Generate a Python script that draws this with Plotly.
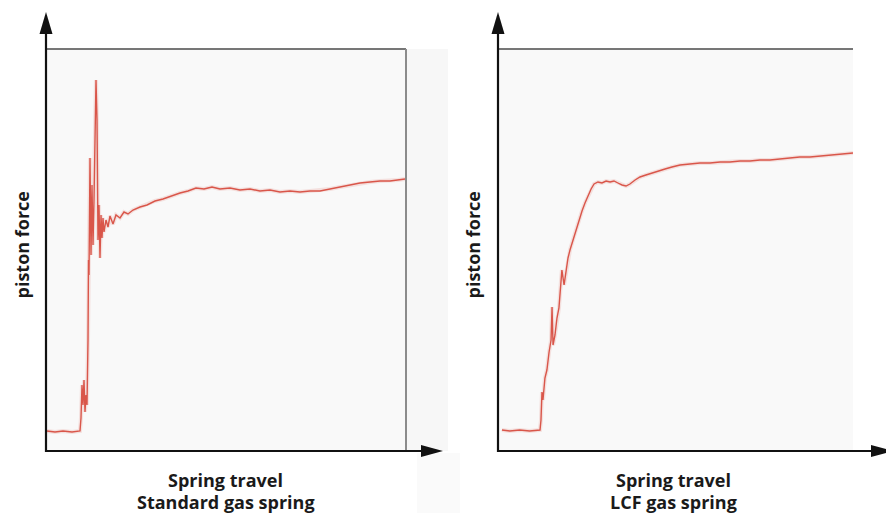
import plotly.graph_objects as go

# ---- measured curves (travel in mm, piston force in kN, arbitrary scale) ----
std_travel = [0.5, 4.5, 8.5, 13, 17, 17.5, 18, 18.5, 19, 19.5, 20, 20.5, 21, 21.25, 21.5,
              22, 22.5, 23, 23.5, 24, 24.5, 25, 25.5, 26, 26.5, 27, 27.5, 28, 28.5, 29,
              30, 31, 32, 33.5, 35, 37, 39, 41, 43.5, 47, 50.5, 54.5, 58.5, 62.5, 67, 71,
              75, 79, 83, 87, 92, 97, 102, 107, 112, 117, 122, 127, 132, 137, 142, 147,
              152, 157, 162, 167, 172, 176, 179.5]
std_force = [0.24, 0.23, 0.24, 0.23, 0.24, 0.37, 0.70, 0.50, 0.75, 0.43, 0.60, 0.50, 1.15, 1.95, 1.80,
             2.97, 2.00, 2.70, 2.10, 2.55, 3.15, 3.75, 3.35, 2.15, 2.50, 1.97, 2.40, 2.17, 2.37, 2.23,
             2.35, 2.28, 2.39, 2.31, 2.40, 2.37, 2.43, 2.41, 2.45, 2.48, 2.50, 2.54, 2.56, 2.59, 2.62, 2.64,
             2.67, 2.66, 2.68, 2.66, 2.67, 2.65, 2.66, 2.64, 2.65, 2.63, 2.64, 2.63, 2.64, 2.64, 2.66, 2.68,
             2.70, 2.72, 2.73, 2.74, 2.74, 2.75, 2.76]

lcf_travel = [2, 6, 11, 16, 21.3, 21.8, 22.3, 22.8, 23.8, 24.8, 25.9, 26.9, 27.4, 27.9, 28.9,
              29.9, 30.9, 31.9, 32.4, 33.5, 34.5, 35.5, 36.5, 38, 39.5, 41, 42.6, 44.1, 45.6,
              47.2, 48.7, 50.7, 52.7, 54.8, 56.8, 58.8, 60.8, 62.9, 64.9, 66.9, 69.5, 72, 75,
              78, 81, 84.7, 88.2, 92.3, 97.3, 102.4, 107.5, 112.6, 117.6, 122.7, 127.8, 132.8,
              137.9, 143, 148, 153, 158.2, 163.3, 168.3, 173.4, 180]
lcf_force = [0.25, 0.24, 0.25, 0.24, 0.25, 0.35, 0.63, 0.55, 0.77, 0.85, 1.03, 1.15, 1.48, 1.10, 1.20,
             1.37, 1.47, 1.73, 1.85, 1.70, 1.83, 1.97, 2.05, 2.15, 2.25, 2.35, 2.44, 2.52, 2.59,
             2.66, 2.71, 2.73, 2.72, 2.74, 2.73, 2.74, 2.72, 2.70, 2.69, 2.71, 2.75, 2.78, 2.80,
             2.82, 2.84, 2.86, 2.88, 2.90, 2.91, 2.92, 2.92, 2.93, 2.93, 2.94, 2.94, 2.95,
             2.95, 2.96, 2.97, 2.98, 2.98, 2.99, 3.00, 3.01, 3.02]

axis_titles = ["Spring travel", "Spring travel"]
spring_names = ["Standard gas spring", "LCF gas spring"]
force_title = "piston force"

W, H = 886, 513
LINE = "#d9564a"
FONT = "Open Sans"
TEXT_SIZE = 18
PANEL = "#f9f9f9"


def px(x):
    return x / W


def py(y):
    return 1 - y / H


fig = go.Figure()

for xs, ys, xa, ya in [(std_travel, std_force, "x", "y"), (lcf_travel, lcf_force, "x2", "y2")]:
    # soft halo under the trace
    fig.add_trace(go.Scatter(x=xs, y=ys, xaxis=xa, yaxis=ya, mode="lines",
                             line=dict(color=LINE, width=4), opacity=0.15,
                             hoverinfo="skip", showlegend=False))
    fig.add_trace(go.Scatter(x=xs, y=ys, xaxis=xa, yaxis=ya, mode="lines",
                             line=dict(color=LINE, width=1.4), showlegend=False))

ax_common = dict(showgrid=False, zeroline=False, showline=False, showticklabels=False,
                 ticks="", fixedrange=True)
fig.update_layout(
    width=W, height=H,
    margin=dict(l=0, r=0, t=0, b=0),
    paper_bgcolor="white",
    plot_bgcolor=PANEL,
    xaxis=dict(domain=[px(46), px(406)], range=[0, 180], **ax_common),
    yaxis=dict(domain=[py(451), py(49)], range=[0.04, 4.06], **ax_common),
    xaxis2=dict(domain=[px(498), px(853)], range=[0, 180], anchor="y2", **ax_common),
    yaxis2=dict(domain=[py(451), py(49)], range=[0.04, 4.06], anchor="x2", **ax_common),
)

shapes = []
# light panel continuing to the right of the left frame
shapes.append(dict(type="rect", xref="paper", yref="paper", layer="below",
                   x0=px(406), x1=px(448), y0=py(451), y1=py(49),
                   fillcolor="#f7f7f7", line=dict(width=0)))
shapes.append(dict(type="rect", xref="paper", yref="paper", layer="below",
                   x0=px(417), x1=px(460), y0=py(513), y1=py(453),
                   fillcolor="#fafafa", line=dict(width=0)))

for x0, x_frame_end, x_tip, right_border in [(46, 406, 443, True), (498, 853, 893, False)]:
    # frame top
    shapes.append(dict(type="line", xref="paper", yref="paper",
                       x0=px(x0), x1=px(x_frame_end), y0=py(49), y1=py(49),
                       line=dict(color="#4a4a4a", width=1.5)))
    if right_border:
        shapes.append(dict(type="line", xref="paper", yref="paper",
                           x0=px(x_frame_end), x1=px(x_frame_end), y0=py(49), y1=py(451),
                           line=dict(color="#8c8c8c", width=2)))
    # vertical axis with arrow
    shapes.append(dict(type="line", xref="paper", yref="paper",
                       x0=px(x0), x1=px(x0), y0=py(452), y1=py(30),
                       line=dict(color="#111111", width=2.2)))
    shapes.append(dict(type="path", xref="paper", yref="paper",
                       path=f"M {px(x0)},{py(12)} L {px(x0 - 6.5)},{py(34)} L {px(x0 + 6.5)},{py(34)} Z",
                       fillcolor="#111111", line=dict(width=0)))
    # horizontal axis with arrow
    shapes.append(dict(type="line", xref="paper", yref="paper",
                       x0=px(x0 - 1), x1=px(x_tip - 18), y0=py(451), y1=py(451),
                       line=dict(color="#111111", width=2.2)))
    shapes.append(dict(type="path", xref="paper", yref="paper",
                       path=f"M {px(x_tip)},{py(451)} L {px(x_tip - 22)},{py(445)} L {px(x_tip - 22)},{py(457)} Z",
                       fillcolor="#111111", line=dict(width=0)))

fig.update_layout(shapes=shapes)

text_font = dict(family=FONT, size=TEXT_SIZE, color="#1a1a1a", weight="bold")
annotations = []
for x_lab, x_center, title, name in [(21.5, 226, axis_titles[0], spring_names[0]),
                                     (472.5, 673, axis_titles[1], spring_names[1])]:
    annotations.append(dict(xref="paper", yref="paper", x=px(x_lab), y=py(245),
                            text=force_title, textangle=-90, showarrow=False,
                            xanchor="center", yanchor="middle", font=text_font))
    annotations.append(dict(xref="paper", yref="paper", x=px(x_center), y=py(480),
                            text=title, showarrow=False, xanchor="center", yanchor="middle",
                            font=text_font))
    annotations.append(dict(xref="paper", yref="paper", x=px(x_center), y=py(502),
                            text=name, showarrow=False, xanchor="center", yanchor="middle",
                            font=text_font))
fig.update_layout(annotations=annotations)

fig.write_html("out.html")
